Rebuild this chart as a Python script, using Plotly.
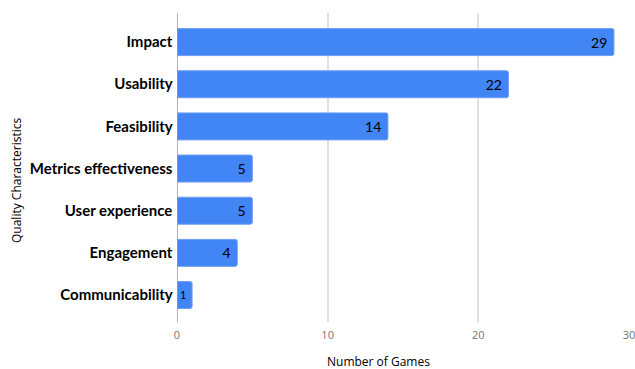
import plotly.graph_objects as go

categories = ["Impact", "Usability", "Feasibility", "Metrics effectiveness",
              "User experience", "Engagement", "Communicability"]
values = [29, 22, 14, 5, 5, 4, 1]
x_ticks = [0, 10, 20, 30]

W, H = 635, 369
L, R, T, B = 177, W - 629, 13, H - 322

fig = go.Figure(go.Bar(
    x=values, y=categories, orientation="h",
    marker=dict(color="#4285F4", line=dict(color="#6d9ef7", width=1), cornerradius=2),
    width=0.64,
    text=[str(v) + "\u00a0" for v in values], textposition="inside", insidetextanchor="end",
    textfont=dict(family="Lato, sans-serif", size=14, color="#000000"),
    cliponaxis=False,
))

pw = W - L - R
ph = H - T - B


def px_to_paper(x, y):
    return (x - L) / pw, (H - B - y) / ph


ax_x, ax_y = px_to_paper(378, 361)
ay_x, ay_y = px_to_paper(16, 181)

fig.update_layout(
    width=W, height=H,
    margin=dict(l=L, r=R, t=T, b=B, autoexpand=False),
    plot_bgcolor="white", paper_bgcolor="white",
    showlegend=False,
    font=dict(family="Lato, sans-serif"),
    xaxis=dict(range=[0, 30], tickvals=x_ticks, showgrid=True, gridcolor="#e0e0e0", gridwidth=1.5,
               zeroline=False, showline=False, ticks="", ticklabelstandoff=5,
               ticklabeloverflow="allow",
               tickfont=dict(family="Open Sans, sans-serif", size=11, color="#757575")),
    yaxis=dict(categoryorder="array", categoryarray=categories, range=[6.64, -0.69],
               showgrid=False, ticks="", showline=False,
               tickfont=dict(family="Lato, sans-serif", size=15, color="#000000", weight="bold"),
               ticksuffix=" "),
    annotations=[
        dict(text="Number of Games", x=ax_x, y=ax_y, xref="paper", yref="paper", showarrow=False,
             xanchor="center", yanchor="middle",
             font=dict(family="Open Sans, sans-serif", size=12, color="#000000")),
        dict(text="Quality Characteristics", textangle=-90, x=ay_x, y=ay_y,
             xref="paper", yref="paper", showarrow=False,
             xanchor="center", yanchor="middle",
             font=dict(family="Open Sans, sans-serif", size=12, color="#000000")),
    ],
    shapes=[dict(type="line", xref="x", yref="paper", x0=0, x1=0, y0=0, y1=1,
                 line=dict(color="#999999", width=1.5))],
)

fig.write_html("out.html",
               config={"displayModeBar": False},
               post_script="document.body.style.margin='0px';document.body.style.overflow='hidden';")
